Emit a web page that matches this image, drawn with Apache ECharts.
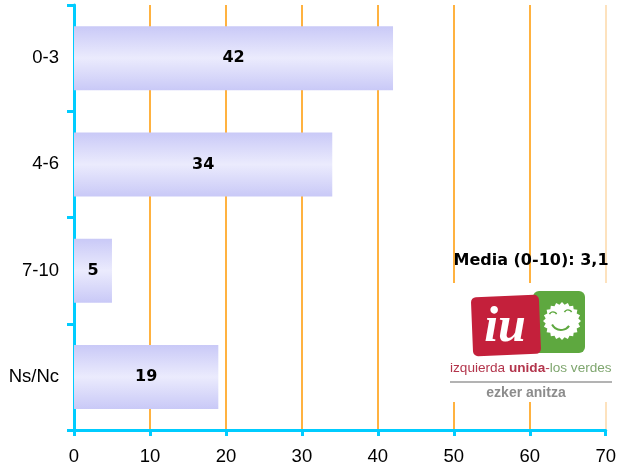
<!DOCTYPE html>
<html>
<head>
<meta charset="utf-8">
<script src="https://cdn.jsdelivr.net/npm/echarts@6/dist/echarts.min.js"></script>
<style>html,body{margin:0;padding:0;background:#fff}#c{width:619px;height:468px}</style>
</head>
<body>
<div id="c"></div>
<script>
const categories = ['0-3', '4-6', '7-10', 'Ns/Nc'];
const values = [42, 34, 5, 19];
const xTicks = [0, 10, 20, 30, 40, 50, 60, 70];
const mediaText = 'Media (0-10): 3,1';

const chart = echarts.init(document.getElementById('c'), null, {renderer: 'canvas'});

// serrated sun for logo
const sunPts = [];
const cx = 562, cy = 321;
for (let i = 0; i < 40; i++) {
  const a = i / 40 * Math.PI * 2;
  const r = i % 2 === 0 ? 19 : 16.5;
  sunPts.push([cx + r * Math.cos(a), cy + r * Math.sin(a)]);
}

const gridColors = ['#FF9900','#FF9900','#FF9900','#FF9900','#FF9900','#FF9900','#FF9900','#FDD9A8'];

chart.setOption({
  animation: false,
  backgroundColor: '#fff',
  grid: {left: 74, right: 12, top: 5, bottom: 38, containLabel: false},
  xAxis: {
    type: 'value', min: xTicks[0], max: xTicks[xTicks.length - 1], interval: 10,
    axisLine: {show: true, lineStyle: {color: '#00CCFF', width: 3}},
    axisTick: {show: true, length: 6, lineStyle: {color: '#00CCFF', width: 3}},
    axisLabel: {color: '#000', fontFamily: 'Liberation Sans', fontSize: 18.5, margin: 17},
    splitLine: {show: true, lineStyle: {color: gridColors, width: 1.5}}
  },
  yAxis: {
    type: 'category', data: categories, inverse: true,
    axisLine: {show: true, lineStyle: {color: '#00CCFF', width: 3}},
    axisTick: {show: true, length: 7, lineStyle: {color: '#00CCFF', width: 3}},
    axisLabel: {color: '#000', fontFamily: 'Liberation Sans', fontSize: 18.5, margin: 15}
  },
  series: [{
    type: 'bar', data: values, barWidth: 64, z: 3,
    itemStyle: {
      color: new echarts.graphic.LinearGradient(0, 0, 0, 1, [
        {offset: 0, color: '#C9C9F7'},
        {offset: 0.5, color: '#EBEBFD'},
        {offset: 1, color: '#C9C9F7'}
      ])
    },
    label: {show: true, position: 'inside', color: '#000', fontFamily: 'DejaVu Sans', fontWeight: 'bold', fontSize: 16}
  }],
  graphic: [
    {type: 'text', z: 100, style: {text: mediaText, x: 531, y: 261, fill: '#000', font: 'bold 16px "DejaVu Sans"', textAlign: 'center', textVerticalAlign: 'middle'}},
    {type: 'rect', z: 100, shape: {x: 448, y: 283, width: 166, height: 119}, style: {fill: '#fff'}},
    {type: 'rect', z: 101, shape: {x: 533, y: 291, width: 52, height: 62, r: 6}, style: {fill: '#5EA83F'}},
    {type: 'polygon', z: 102, shape: {points: sunPts}, style: {fill: '#fff'}},
    {type: 'arc', z: 103, shape: {cx: 553, cy: 316, r: 4, startAngle: Math.PI * 1.15, endAngle: Math.PI * 1.85}, style: {stroke: '#5EA83F', lineWidth: 1.5, fill: null}},
    {type: 'arc', z: 103, shape: {cx: 568, cy: 314, r: 4, startAngle: Math.PI * 1.15, endAngle: Math.PI * 1.85}, style: {stroke: '#5EA83F', lineWidth: 1.5, fill: null}},
    {type: 'arc', z: 103, shape: {cx: 561, cy: 320, r: 10, startAngle: Math.PI * 0.2, endAngle: Math.PI * 0.85}, style: {stroke: '#5EA83F', lineWidth: 2, fill: null}},
    {type: 'rect', z: 104, rotation: 0.04, originX: 506, originY: 326, shape: {x: 472, y: 296, width: 68, height: 59, r: 5}, style: {fill: '#C4203B'}},
    {type: 'text', z: 105, style: {text: 'iu', x: 505, y: 328, fill: '#fff', font: 'italic bold 50px "Liberation Serif"', textAlign: 'center', textVerticalAlign: 'middle'}},
    {type: 'text', z: 105, style: {
      text: '{r|izquierda }{b|unida}{r|-}{g|los verdes}', x: 450, y: 368, textVerticalAlign: 'middle',
      rich: {
        r: {fill: '#B3354C', font: '13.6px "Liberation Sans"'},
        b: {fill: '#B3354C', font: 'bold 13.6px "Liberation Sans"'},
        g: {fill: '#7FA66F', font: '13.6px "Liberation Sans"'}
      }
    }},
    {type: 'line', z: 105, shape: {x1: 450, y1: 382, x2: 612, y2: 382}, style: {stroke: '#9A9A9A', lineWidth: 1.5}},
    {type: 'text', z: 105, style: {text: 'ezker anitza', x: 526, y: 393, fill: '#8C8C8C', font: 'bold 14px "Liberation Sans"', textAlign: 'center', textVerticalAlign: 'middle'}}
  ]
});
</script>
</body>
</html>
